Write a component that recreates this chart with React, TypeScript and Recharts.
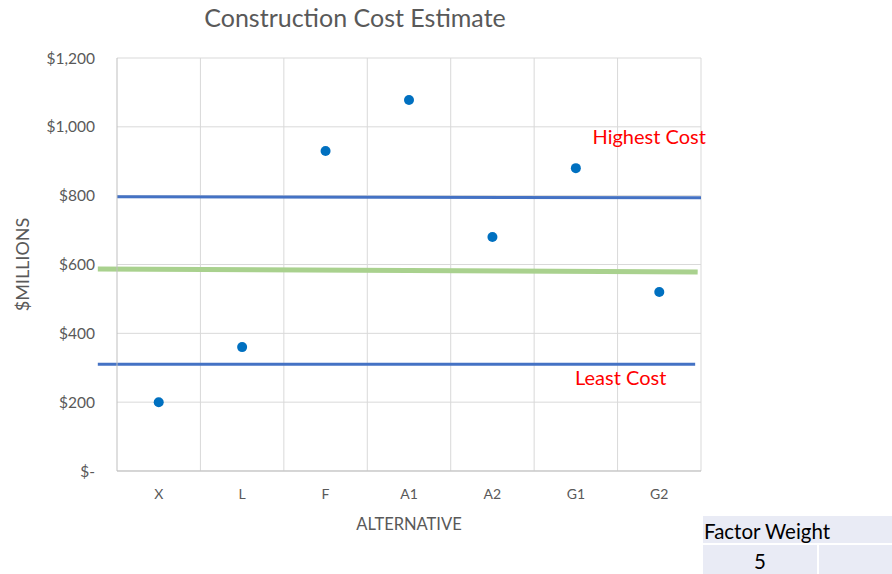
import { ScatterChart, Scatter, XAxis, YAxis, CartesianGrid, ReferenceLine, ReferenceDot } from "recharts"

const categories = ["X", "L", "F", "A1", "A2", "G1", "G2"]
const costs = [200, 360, 930, 1078, 680, 880, 520]
const yTicks = [0, 200, 400, 600, 800, 1000, 1200]

// hand-drawn marker lines: [start pos, start value, end pos, end value], x in category units (0..7)
const highLine = [0, 797, 7, 794]
const avgLine = [-0.23, 587, 6.96, 578]
const lowLine = [-0.23, 310, 6.93, 310]

// each category sits in the middle of its slot
const points = categories.map((name, i) => ({ name, pos: i + 0.5, cost: costs[i] }))
const xTicks = points.map((p) => p.pos)

const FONT = "Lato, 'Open Sans', sans-serif"
const GREY = "#595959"

const fmtMoney = (v: number) => (v === 0 ? "$-" : `$${v.toLocaleString("en-US")}`)

function seg(l: number[]) {
  return [
    { x: l[0], y: l[1] },
    { x: l[2], y: l[3] },
  ] as any
}

export default function App() {
  return (
    <div style={{ position: "absolute", left: 0, top: 0, width: 892, height: 574, background: "#fff", fontFamily: FONT }}>
      <div style={{ position: "absolute", left: 0, width: 710, top: 2, textAlign: "center", fontSize: 25, color: GREY }}>
        Construction Cost Estimate
      </div>
      <ScatterChart width={892} height={574} margin={{ top: 58, right: 191, bottom: 43, left: 0 }}>
        <CartesianGrid
          stroke="#d9d9d9"
          verticalCoordinatesGenerator={({ offset }: any) =>
            categories.map((_, i) => offset.left + ((i + 1) * offset.width) / categories.length)
          }
        />
        <XAxis
          dataKey="pos"
          type="number"
          domain={[0, categories.length]}
          ticks={xTicks}
          tickFormatter={(v: number) => categories[Math.floor(v)]}
          interval={0}
          stroke="#bfbfbf"
          tickLine={false}
          tickSize={0}
          tickMargin={18}
          height={60}
          tick={{ fill: GREY, fontSize: 14, fontFamily: FONT }}
          label={{ value: "ALTERNATIVE", position: "insideBottom", offset: 1, fill: GREY, fontSize: 16.5, fontFamily: FONT }}
        />
        <YAxis
          dataKey="cost"
          type="number"
          domain={[0, 1200]}
          ticks={yTicks}
          width={117}
          stroke="#bfbfbf"
          tickLine={false}
          tickSize={0}
          tickMargin={22}
          tickFormatter={fmtMoney}
          tick={{ fill: GREY, fontSize: 15.5, fontFamily: FONT }}
          label={{
            content: ({ viewBox }: any) => {
              const cx = 22
              const cy = viewBox.y + viewBox.height / 2
              return (
                <text x={cx} y={cy} transform={`rotate(-90 ${cx} ${cy})`} textAnchor="middle" dominantBaseline="central" fill={GREY} fontSize={18} fontFamily={FONT}>
                  $MILLIONS
                </text>
              )
            },
          }}
        />
        <ReferenceLine segment={seg(highLine)} stroke="#4472c4" strokeWidth={3} ifOverflow="visible" />
        <ReferenceLine segment={seg(avgLine)} stroke="#a9d18e" strokeWidth={5} ifOverflow="visible" />
        <ReferenceLine segment={seg(lowLine)} stroke="#4472c4" strokeWidth={3} ifOverflow="visible" />
        <Scatter data={points} fill="#0070c0" isAnimationActive={false} shape={(p: any) => <circle cx={p.cx} cy={p.cy} r={5} fill="#0070c0" />} />
        <ReferenceDot
          x={5.7}
          y={970}
          r={0}
          ifOverflow="visible"
          label={{ value: "Highest Cost", position: "right", offset: 0, fill: "#ff0000", fontSize: 20, fontFamily: FONT }}
        />
        <ReferenceDot
          x={5.49}
          y={270}
          r={0}
          ifOverflow="visible"
          label={{ value: "Least Cost", position: "right", offset: 0, fill: "#ff0000", fontSize: 20, fontFamily: FONT }}
        />
      </ScatterChart>
      <div style={{ position: "absolute", left: 703, top: 516, width: 189, height: 27, background: "#e9ebf5", fontSize: 20.5, lineHeight: "31px", paddingLeft: 1, boxSizing: "border-box", color: "#000", whiteSpace: "nowrap" }}>
        Factor Weight
      </div>
      <div style={{ position: "absolute", left: 703, top: 545, width: 114, height: 29, background: "#e9ebf5", fontSize: 20.5, lineHeight: "33px", textAlign: "center", color: "#000" }}>
        5
      </div>
      <div style={{ position: "absolute", left: 819, top: 545, width: 73, height: 29, background: "#e9ebf5" }} />
    </div>
  )
}
